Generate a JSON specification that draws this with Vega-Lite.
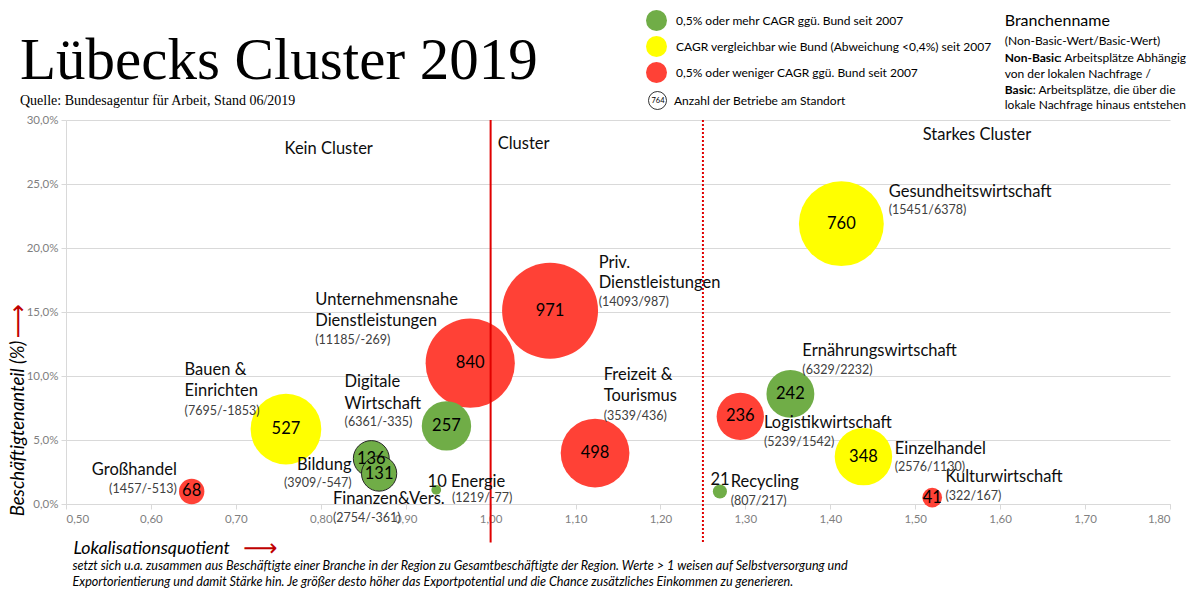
{
  "$schema": "https://vega.github.io/schema/vega-lite/v6.json",
  "width": 1104,
  "height": 384,
  "autosize": {"type": "none"},
  "padding": {"left": 66, "top": 120, "right": 20, "bottom": 86},
  "background": "white",
  "config": {"view": {"stroke": null}, "font": "Lato"},
  "title": {
    "text": "Lübecks Cluster 2019",
    "subtitle": "Quelle: Bundesagentur für Arbeit, Stand 06/2019",
    "anchor": "start",
    "frame": "group",
    "dx": -46,
    "offset": -98,
    "font": "Liberation Serif",
    "fontSize": 59,
    "fontWeight": "normal",
    "color": "black",
    "subtitleFont": "Liberation Serif",
    "subtitleFontSize": 14,
    "subtitleColor": "black",
    "subtitlePadding": 3
  },
  "datasets": {
    "branchen": [
      {"Branche": "Gesundheitswirtschaft", "LQ": 1.413, "Anteil": 21.9, "Anzahl": 760, "Entwicklung": "vergleichbar", "NonBasic": 15451, "Basic": 6378},
      {"Branche": "Priv. Dienstleistungen", "LQ": 1.070, "Anteil": 15.1, "Anzahl": 971, "Entwicklung": "weniger", "NonBasic": 14093, "Basic": 987},
      {"Branche": "Unternehmensnahe Dienstleistungen", "LQ": 0.976, "Anteil": 11.0, "Anzahl": 840, "Entwicklung": "weniger", "NonBasic": 11185, "Basic": -269},
      {"Branche": "Bauen & Einrichten", "LQ": 0.759, "Anteil": 5.85, "Anzahl": 527, "Entwicklung": "vergleichbar", "NonBasic": 7695, "Basic": -1853},
      {"Branche": "Digitale Wirtschaft", "LQ": 0.948, "Anteil": 6.1, "Anzahl": 257, "Entwicklung": "mehr", "NonBasic": 6361, "Basic": -335},
      {"Branche": "Freizeit & Tourismus", "LQ": 1.123, "Anteil": 3.98, "Anzahl": 498, "Entwicklung": "weniger", "NonBasic": 3539, "Basic": 436},
      {"Branche": "Ernährungswirtschaft", "LQ": 1.353, "Anteil": 8.6, "Anzahl": 242, "Entwicklung": "mehr", "NonBasic": 6329, "Basic": 2232},
      {"Branche": "Logistikwirtschaft", "LQ": 1.294, "Anteil": 6.84, "Anzahl": 236, "Entwicklung": "weniger", "NonBasic": 5239, "Basic": 1542},
      {"Branche": "Einzelhandel", "LQ": 1.439, "Anteil": 3.7, "Anzahl": 348, "Entwicklung": "vergleichbar", "NonBasic": 2576, "Basic": 1130},
      {"Branche": "Kulturwirtschaft", "LQ": 1.520, "Anteil": 0.5, "Anzahl": 41, "Entwicklung": "weniger", "NonBasic": 322, "Basic": 167},
      {"Branche": "Recycling", "LQ": 1.270, "Anteil": 0.98, "Anzahl": 21, "Entwicklung": "mehr", "NonBasic": 807, "Basic": 217},
      {"Branche": "Energie", "LQ": 0.936, "Anteil": 1.1, "Anzahl": 10, "Entwicklung": "mehr", "NonBasic": 1219, "Basic": -77},
      {"Branche": "Großhandel", "LQ": 0.648, "Anteil": 0.98, "Anzahl": 68, "Entwicklung": "weniger", "NonBasic": 1457, "Basic": -513},
      {"Branche": "Bildung", "LQ": 0.8595, "Anteil": 3.55, "Anzahl": 136, "Entwicklung": "mehr", "NonBasic": 3909, "Basic": -547},
      {"Branche": "Finanzen&Vers.", "LQ": 0.8687, "Anteil": 2.38, "Anzahl": 131, "Entwicklung": "mehr", "NonBasic": 2754, "Basic": -361}
    ],
    "grenzen": [
      {"LQ": 1.0, "Grenze": "Cluster"},
      {"LQ": 1.25, "Grenze": "Starkes Cluster"}
    ],
    "texte": [
      {"t": "Gesundheitswirtschaft", "x": 1.4688, "y": 24.41, "art": "name"},
      {"t": "Priv.", "x": 1.1272, "y": 18.81, "art": "name"},
      {"t": "Dienstleistungen", "x": 1.1272, "y": 17.23, "art": "name"},
      {"t": "Unternehmensnahe", "x": 0.7935, "y": 15.95, "art": "name"},
      {"t": "Dienstleistungen", "x": 0.7935, "y": 14.28, "art": "name"},
      {"t": "Bauen &", "x": 0.6396, "y": 10.48, "art": "name"},
      {"t": "Einrichten", "x": 0.6396, "y": 8.79, "art": "name"},
      {"t": "Digitale", "x": 0.828, "y": 9.55, "art": "name"},
      {"t": "Wirtschaft", "x": 0.828, "y": 7.83, "art": "name"},
      {"t": "Freizeit &", "x": 1.1331, "y": 10.04, "art": "name"},
      {"t": "Tourismus", "x": 1.1331, "y": 8.40, "art": "name"},
      {"t": "Ernährungswirtschaft", "x": 1.3671, "y": 11.94, "art": "name"},
      {"t": "Logistikwirtschaft", "x": 1.3219, "y": 6.31, "art": "name"},
      {"t": "Einzelhandel", "x": 1.4759, "y": 4.31, "art": "name"},
      {"t": "Kulturwirtschaft", "x": 1.5356, "y": 2.09, "art": "name"},
      {"t": "Recycling", "x": 1.2827, "y": 1.70, "art": "name"},
      {"t": "10 Energie", "x": 0.9258, "y": 1.70, "art": "name"},
      {"t": "Finanzen&Vers.", "x": 0.8143, "y": 0.41, "art": "name"},
      {"t": "Kein Cluster", "x": 0.7574, "y": 27.77, "art": "name"},
      {"t": "Cluster", "x": 1.0083, "y": 28.09, "art": "name"},
      {"t": "Starkes Cluster", "x": 1.5088, "y": 28.79, "art": "name"},
      {"t": "Großhandel", "x": 0.6305, "y": 2.67, "art": "name_r"},
      {"t": "Bildung", "x": 0.8363, "y": 3.01, "art": "name_r"},
      {"t": "21", "x": 1.2815, "y": 1.84, "art": "name_r"},
      {"t": "(15451/6378)", "x": 1.4688, "y": 22.93, "art": "werte"},
      {"t": "(14093/987)", "x": 1.1272, "y": 15.77, "art": "werte"},
      {"t": "(11185/-269)", "x": 0.7935, "y": 12.83, "art": "werte"},
      {"t": "(7695/-1853)", "x": 0.6396, "y": 7.30, "art": "werte"},
      {"t": "(6361/-335)", "x": 0.828, "y": 6.39, "art": "werte"},
      {"t": "(3539/436)", "x": 1.1331, "y": 6.91, "art": "werte"},
      {"t": "(6329/2232)", "x": 1.3671, "y": 10.48, "art": "werte"},
      {"t": "(5239/1542)", "x": 1.3219, "y": 4.88, "art": "werte"},
      {"t": "(2576/1130)", "x": 1.4759, "y": 2.88, "art": "werte"},
      {"t": "(322/167)", "x": 1.5356, "y": 0.61, "art": "werte"},
      {"t": "(807/217)", "x": 1.2827, "y": 0.27, "art": "werte"},
      {"t": "(1219/-77)", "x": 0.9545, "y": 0.5, "art": "werte"},
      {"t": "(2754/-361)", "x": 0.8143, "y": -1.13, "art": "werte"},
      {"t": "(1457/-513)", "x": 0.6305, "y": 1.19, "art": "werte_r"},
      {"t": "(3909/-547)", "x": 0.8363, "y": 1.63, "art": "werte_r"},
      {"t": "Branchenname", "x": 1.6054, "y": 37.77, "art": "kopf"},
      {"t": "(Non-Basic-Wert/Basic-Wert)", "x": 1.6054, "y": 36.21, "art": "notiz"},
      {"t": "Non-Basic", "x": 1.6054, "y": 34.88, "art": "fett"},
      {"t": ": Arbeitsplätze Abhängig", "x": 1.6691, "y": 34.88, "art": "notiz"},
      {"t": "von der lokalen Nachfrage /", "x": 1.6054, "y": 33.63, "art": "notiz"},
      {"t": "Basic", "x": 1.6054, "y": 32.38, "art": "fett"},
      {"t": ": Arbeitsplätze, die über die", "x": 1.6385, "y": 32.38, "art": "notiz"},
      {"t": "lokale Nachfrage hinaus entstehen", "x": 1.6054, "y": 31.21, "art": "notiz"},
      {"t": "setzt sich u.a. zusammen aus Beschäftigte einer Branche in der Region zu Gesamtbeschäftigte der Region. Werte > 1 weisen auf Selbstversorgung und", "x": 0.5077, "y": -4.88, "art": "hinweis"},
      {"t": "Exportorientierung und damit Stärke hin. Je größer desto höher das Exportpotential und die Chance zusätzliches Einkommen zu generieren.", "x": 0.5077, "y": -6.13, "art": "hinweis"},
      {"t": "⟶", "x": 0.729, "y": -3.48, "art": "pfeil_x"},
      {"t": "⟶", "x": 0.4441, "y": 14.3, "art": "pfeil_y"}
    ]
  },
  "layer": [
    {
      "data": {"name": "branchen"},
      "mark": {"type": "point", "filled": true, "opacity": 1, "stroke": "#262626"},
      "encoding": {
        "x": {
          "field": "LQ", "type": "quantitative",
          "scale": {"domain": [0.5, 1.8], "nice": false, "zero": false},
          "axis": {
            "values": [0.5, 0.6, 0.7, 0.8, 0.9, 1.0, 1.1, 1.2, 1.3, 1.4, 1.5, 1.6, 1.7, 1.8],
            "labelExpr": "replace(format(datum.value, '.2f'), '.', ',')",
            "grid": false, "domainColor": "#D9D9D9", "tickColor": "#D9D9D9", "tickSize": 5,
            "labelPadding": 4, "labelColor": "#7F7F7F", "labelFont": "Lato", "labelFontSize": 11.5,
            "title": "Lokalisationsquotient", "titleFont": "Lato", "titleFontStyle": "italic",
            "titleFontWeight": "normal", "titleFontSize": 17.8, "titleColor": "black",
            "titleX": 7, "titleY": 44.5, "titleAlign": "left", "titleBaseline": "middle", "titleAnchor": "start"
          }
        },
        "y": {
          "field": "Anteil", "type": "quantitative",
          "scale": {"domain": [0, 30], "nice": false},
          "axis": {
            "values": [0, 5, 10, 15, 20, 25, 30],
            "labelExpr": "replace(format(datum.value, '.1f'), '.', ',') + '%'",
            "grid": true, "gridColor": "#D9D9D9", "domainColor": "#D9D9D9", "tickColor": "#D9D9D9", "tickSize": 5,
            "labelPadding": 3, "labelColor": "#7F7F7F", "labelFont": "Lato", "labelFontSize": 11.5,
            "title": "Beschäftigtenanteil (%)", "titleFont": "Lato", "titleFontStyle": "italic",
            "titleFontWeight": "normal", "titleFontSize": 18.5, "titleColor": "black",
            "titleAngle": 270, "titleX": -49, "titleY": 308, "titleAlign": "center", "titleBaseline": "middle"
          }
        },
        "size": {"field": "Anzahl", "type": "quantitative", "scale": {"domain": [0, 1000], "range": [0, 9480]}, "legend": null},
        "color": {
          "field": "Entwicklung", "type": "nominal",
          "scale": {"domain": ["mehr", "vergleichbar", "weniger"], "range": ["#70AD47", "#FFFF00", "#FF4136"]},
          "legend": {
            "orient": "none", "legendX": 580, "legendY": -110, "title": null,
            "symbolType": "circle", "symbolSize": 441, "symbolStrokeWidth": 0,
            "labelFont": "Lato", "labelFontSize": 12, "labelColor": "black", "labelOffset": 9, "rowPadding": 5, "labelLimit": 500,
            "labelExpr": "datum.label === 'mehr' ? '0,5% oder mehr CAGR ggü. Bund seit 2007' : datum.label === 'vergleichbar' ? 'CAGR vergleichbar wie Bund (Abweichung <0,4%) seit 2007' : '0,5% oder weniger CAGR ggü. Bund seit 2007'",
            "encode": {"symbols": {"update": {"strokeWidth": {"value": 0}, "opacity": {"value": 1}}}}
          }
        },
        "shape": {
          "datum": "764",
          "scale": {"range": ["circle"]},
          "legend": {
            "orient": "none", "legendX": 582, "legendY": -29,
            "title": "Anzahl der Betriebe am Standort", "titleOrient": "right",
            "titleFont": "Lato", "titleFontSize": 12, "titleFontWeight": "normal", "titleColor": "black", "titlePadding": 6,
            "symbolSize": 324, "symbolFillColor": "white", "symbolStrokeColor": "black", "symbolStrokeWidth": 0.8,
            "labelFont": "Lato", "labelFontSize": 7.5, "labelAlign": "center", "labelOffset": -9, "labelColor": "black",
            "encode": {"symbols": {"update": {"fill": {"value": "white"}, "stroke": {"value": "black"}, "strokeWidth": {"value": 0.8}, "opacity": {"value": 1}}}}
          }
        },
        "strokeWidth": {"condition": {"test": "datum.Branche === 'Bildung' || datum.Branche === 'Finanzen&Vers.'", "value": 1}, "value": 0}
      }
    },
    {
      "data": {"name": "grenzen"},
      "mark": {"type": "rule", "color": "#E00000", "strokeWidth": 2},
      "encoding": {
        "x": {"field": "LQ", "type": "quantitative"},
        "y": {"datum": 30, "type": "quantitative"},
        "y2": {"datum": -3},
        "strokeDash": {"field": "Grenze", "type": "nominal", "scale": {"domain": ["Cluster", "Starkes Cluster"], "range": [[1, 0], [2, 2]]}, "legend": null}
      }
    },
    {
      "data": {"name": "branchen"},
      "transform": [{"filter": "datum.Anzahl >= 30"}],
      "mark": {"type": "text", "font": "Lato", "fontSize": 16.5, "color": "black", "align": "center", "baseline": "middle"},
      "encoding": {
        "x": {"field": "LQ", "type": "quantitative"},
        "y": {"field": "Anteil", "type": "quantitative"},
        "text": {"field": "Anzahl", "type": "quantitative"}
      }
    },
    {
      "data": {"name": "texte"},
      "transform": [{"filter": "datum.art === 'name'"}],
      "mark": {"type": "text", "font": "Lato", "fontSize": 16.5, "color": "#0D0D0D", "align": "left", "baseline": "middle"},
      "encoding": {"x": {"field": "x", "type": "quantitative"}, "y": {"field": "y", "type": "quantitative"}, "text": {"field": "t"}}
    },
    {
      "data": {"name": "texte"},
      "transform": [{"filter": "datum.art === 'name_r'"}],
      "mark": {"type": "text", "font": "Lato", "fontSize": 16.5, "color": "#0D0D0D", "align": "right", "baseline": "middle"},
      "encoding": {"x": {"field": "x", "type": "quantitative"}, "y": {"field": "y", "type": "quantitative"}, "text": {"field": "t"}}
    },
    {
      "data": {"name": "texte"},
      "transform": [{"filter": "datum.art === 'werte'"}],
      "mark": {"type": "text", "font": "Lato", "fontSize": 12.5, "color": "#404040", "align": "left", "baseline": "middle"},
      "encoding": {"x": {"field": "x", "type": "quantitative"}, "y": {"field": "y", "type": "quantitative"}, "text": {"field": "t"}}
    },
    {
      "data": {"name": "texte"},
      "transform": [{"filter": "datum.art === 'werte_r'"}],
      "mark": {"type": "text", "font": "Lato", "fontSize": 12.5, "color": "#404040", "align": "right", "baseline": "middle"},
      "encoding": {"x": {"field": "x", "type": "quantitative"}, "y": {"field": "y", "type": "quantitative"}, "text": {"field": "t"}}
    },
    {
      "data": {"name": "texte"},
      "transform": [{"filter": "datum.art === 'kopf'"}],
      "mark": {"type": "text", "font": "Lato", "fontSize": 16, "color": "black", "align": "left", "baseline": "middle"},
      "encoding": {"x": {"field": "x", "type": "quantitative"}, "y": {"field": "y", "type": "quantitative"}, "text": {"field": "t"}}
    },
    {
      "data": {"name": "texte"},
      "transform": [{"filter": "datum.art === 'notiz'"}],
      "mark": {"type": "text", "font": "Lato", "fontSize": 12, "color": "black", "align": "left", "baseline": "middle"},
      "encoding": {"x": {"field": "x", "type": "quantitative"}, "y": {"field": "y", "type": "quantitative"}, "text": {"field": "t"}}
    },
    {
      "data": {"name": "texte"},
      "transform": [{"filter": "datum.art === 'fett'"}],
      "mark": {"type": "text", "font": "Lato", "fontSize": 12, "fontWeight": "bold", "color": "black", "align": "left", "baseline": "middle"},
      "encoding": {"x": {"field": "x", "type": "quantitative"}, "y": {"field": "y", "type": "quantitative"}, "text": {"field": "t"}}
    },
    {
      "data": {"name": "texte"},
      "transform": [{"filter": "datum.art === 'hinweis'"}],
      "mark": {"type": "text", "font": "Lato", "fontSize": 12.6, "fontStyle": "italic", "color": "black", "align": "left", "baseline": "middle"},
      "encoding": {"x": {"field": "x", "type": "quantitative"}, "y": {"field": "y", "type": "quantitative"}, "text": {"field": "t"}}
    },
    {
      "data": {"name": "texte"},
      "transform": [{"filter": "datum.art === 'pfeil_x'"}],
      "mark": {"type": "text", "font": "DejaVu Sans", "fontSize": 24, "color": "#C00000", "align": "center", "baseline": "middle"},
      "encoding": {"x": {"field": "x", "type": "quantitative"}, "y": {"field": "y", "type": "quantitative"}, "text": {"field": "t"}}
    },
    {
      "data": {"name": "texte"},
      "transform": [{"filter": "datum.art === 'pfeil_y'"}],
      "mark": {"type": "text", "font": "DejaVu Sans", "fontSize": 24, "color": "#C00000", "align": "center", "baseline": "middle", "angle": 270},
      "encoding": {"x": {"field": "x", "type": "quantitative"}, "y": {"field": "y", "type": "quantitative"}, "text": {"field": "t"}}
    }
  ]
}
